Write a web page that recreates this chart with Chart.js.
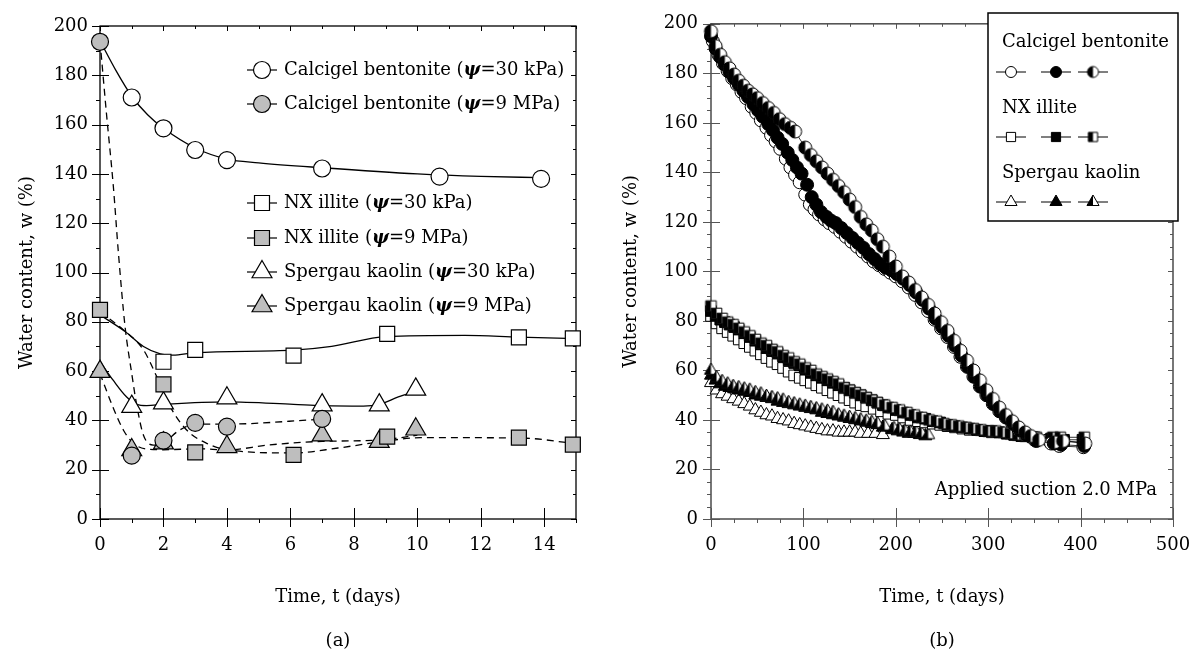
<!DOCTYPE html>
<html>
<head>
<meta charset="utf-8">
<script src="https://cdn.jsdelivr.net/npm/chart.js@4.4.1/dist/chart.umd.min.js"></script>
<style>
  body { margin: 0; background: #fff; width: 1192px; height: 656px; position: relative; overflow: hidden; font-family: "DejaVu Serif", serif; }
  canvas { position: absolute; top: 0; }
  #ca { left: 0; }
  #cb { left: 600px; }
  .cap { position: absolute; top: 628px; width: 100px; text-align: center; font-size: 18px; line-height: 24px; color: #000; }
</style>
</head>
<body>
<canvas id="ca" width="600" height="656"></canvas>
<canvas id="cb" width="592" height="656"></canvas>
<div class="cap" style="left:288px">(a)</div>
<div class="cap" style="left:892px">(b)</div>
<script>
// ---------- (a) short term tests, t in days, w in % ----------
var cb30T = [1, 2, 3, 4, 7, 10.7, 13.9];
var cb30W = [171, 158.5, 149.7, 145.6, 142.2, 138.9, 138];
var cb9T = [0, 1, 2, 3, 4, 7];
var cb9W = [193.6, 25.7, 31.8, 39, 37.5, 40.6];
var nx30T = [2, 3, 6.1, 9.05, 13.2, 14.9];
var nx30W = [63.8, 68.6, 66.3, 75.1, 73.7, 73.3];
var nx9T = [0, 2, 3, 6.1, 9.05, 13.2, 14.9];
var nx9W = [84.8, 54.6, 27, 26, 33.4, 33, 30.2];
var sk30T = [1, 2, 4, 7, 8.8, 9.95];
var sk30W = [45.6, 47, 49, 46.2, 46.2, 52.6];
var sk9T = [0, 1, 2, 4, 7, 8.8, 9.95];
var sk9W = [59.8, 28, 30.8, 29.3, 34, 31.4, 36.4];

// fitted trend curves as drawn in the figure
var cb30FitT = [0, 0.5, 1, 1.5, 2, 3, 4, 5, 7, 10, 12, 13.9];
var cb30FitW = [194, 182, 171.5, 164, 158.5, 150.5, 146, 144.5, 142.5, 140, 139, 138.5];
var cb9FitT = [0, 0.2, 0.42, 0.58, 0.79, 1, 1.16, 1.37, 1.68, 2, 2.5, 3, 4, 7];
var cb9FitW = [194, 165, 135, 108, 78, 59, 46, 34, 30, 31, 36, 38.5, 38.5, 40.5];
var nx30FitT = [0, 0.8, 1.37, 1.9, 2.3, 3, 6.1, 7.3, 9, 11.5, 13.2, 15];
var nx30FitW = [82.8, 76, 70, 67, 66.5, 67.5, 68.5, 70, 74, 74.5, 73.8, 73.2];
var nx9FitT = [0, 0.74, 1.37, 1.79, 2.21, 2.73, 3.36, 4.03, 6.1, 7.5, 8.9, 10.1, 13.2, 15];
var nx9FitW = [84, 76.7, 68.6, 57.7, 45.6, 36.1, 30.7, 28, 26.8, 28.8, 31.4, 33, 32.9, 30.6];
var sk30FitT = [0, 0.42, 0.84, 1.16, 1.47, 2, 4, 6.1, 7, 8.3, 8.8, 9.4, 10];
var sk30FitW = [63.8, 56.2, 49.5, 46.5, 46, 46.5, 47.5, 46.5, 46, 45.8, 46.5, 49.5, 52];
var sk9FitT = [0, 0.42, 0.74, 1.05, 1.47, 2, 3.1, 4, 5.3, 7, 8.8, 10];
var sk9FitW = [59, 45, 36, 30.7, 28.4, 28.1, 28.5, 28, 30, 31.5, 32, 34];

// ---------- (b) long term tests at 2.0 MPa, [t (days), w (%)] ----------
var cbOpen = [[2,193],[8,187.5],[13,184],[18,181],[23,178],[28,175.5],[33,172.5],[38,170],[44,166.5],[49,164],[54,161],[60,158],[65,155],[70,152.5],[75,149.5],[81,145.5],[86,142],[91,139],[96,136],[102,131],[107,127],[112,125],[117,123],[123,121],[128,119.5],[134,118],[140,116],[146,114],[152,112],[158,110],[164,108],[170,106],[176,104],[182,102.5],[188,101],[194,99.5],[200,98],[207,96],[214,93.5],[221,90.5],[228,87.5],[235,84],[242,80.5],[249,77],[256,73.5],[263,69.5],[270,65.5],[277,61.5],[284,57.5],[291,53.5],[298,50],[305,46.5],[312,43.5],[319,41],[326,38.5],[333,36],[340,34],[350,32],[368,30.5],[377,29.5],[403,29]];
var cbFilled = [[0,195],[5,190],[10,186.5],[15,183.5],[20,180.5],[25,178],[30,175.5],[35,173],[40,170.5],[46,167.5],[51,165],[56,162.5],[62,159.5],[67,157],[72,154],[77,151.5],[83,148],[88,145],[93,142],[98,139.5],[104,135],[109,130],[114,127],[119,124],[125,122],[130,120.5],[135,119.5],[141,117.5],[147,115.5],[153,113.5],[159,111.5],[165,109.5],[171,107],[177,105],[183,103],[189,101.5],[195,100.5],[201,99],[208,97],[215,94.5],[222,91.5],[229,88.5],[236,85],[243,81],[250,77.5],[257,74],[264,70],[271,66],[278,61.5],[285,57.5],[292,53.5],[299,50],[306,46.5],[313,43.5],[320,41],[327,38.5],[334,36],[341,34],[352,31.5],[371,30.5],[379,30],[404,29.5]];
var cbHalf = [[0,197],[5,191],[10,187.5],[15,184.5],[20,182],[25,179.5],[30,177],[35,175],[40,173],[45,171.5],[50,170],[56,168],[62,166],[68,164],[74,161.5],[80,159.5],[86,158],[91,156.5],[102,150],[108,147],[114,144.5],[120,142],[126,139.5],[132,137],[138,134.5],[144,132],[150,129],[156,126],[162,122],[168,119],[174,116.5],[180,113],[186,110],[193,106],[200,102],[207,98],[214,95.5],[221,92.5],[228,89.5],[235,86.5],[242,83],[249,79.5],[256,76],[263,72],[270,68],[277,64],[284,60],[291,56],[298,52],[305,48.5],[312,45],[319,42],[326,39.5],[333,37],[340,35],[346,33.5],[355,32],[372,31],[381,31.5],[405,30.5]];
var nxOpen = [[0,82],[6,79],[12,77],[18,75.5],[24,74],[30,72.5],[36,71],[42,69.5],[48,68],[54,66.5],[60,65],[66,63.5],[72,62.5],[78,61],[84,59.5],[90,58],[96,57],[102,56],[108,55],[114,54],[120,53],[126,52],[132,51],[138,50],[144,49],[150,48],[156,47],[162,46],[168,45.5],[176,44.5],[184,43.5],[192,42.5],[200,42],[208,41],[216,40],[224,39.5],[232,39],[240,38.5],[248,38],[256,37.5],[264,37],[272,36.5],[280,36],[288,36],[296,35.5],[304,35],[312,35],[320,34.5],[328,34],[336,33.5],[348,33],[366,32],[374,31.5],[382,31.5],[403,31]];
var nxFilled = [[0,84],[5,82],[10,80.5],[15,79.5],[20,78.5],[25,77.5],[30,76.5],[36,75],[42,73.5],[48,72],[54,70.5],[60,69],[66,68],[72,67],[78,65.5],[84,64],[90,63],[96,62],[102,60.5],[108,59],[114,58],[120,57],[126,56],[132,55],[138,54],[144,53],[150,52],[156,51],[162,50],[168,49],[174,48],[180,47],[186,46],[192,45],[200,44],[208,43],[216,42],[224,41],[232,40.5],[240,39.5],[248,39],[256,38],[264,37.5],[272,37],[280,36.5],[288,36],[296,35.5],[304,35.5],[312,35],[320,34.5],[328,34],[336,33.5],[350,33],[368,32.5],[375,32],[382,32],[402,32]];
var nxHalf = [[0,86],[6,83],[12,81],[18,79.5],[24,78.5],[30,77],[36,75.5],[42,74],[48,72.5],[54,71],[60,70],[66,68.5],[72,67.5],[78,66],[84,65],[90,63.5],[96,62.5],[102,61],[108,60],[114,58.5],[120,57.5],[126,56.5],[132,55.5],[138,54.5],[144,53],[150,52],[156,51],[162,50],[168,49],[174,48],[180,47],[188,46],[196,45],[204,44],[212,43],[220,42],[228,41],[236,40],[244,39.5],[252,38.5],[260,38],[268,37.5],[276,37],[284,36.5],[292,36],[300,35.5],[308,35.5],[316,35],[324,34.5],[332,34],[340,33.5],[352,33],[370,33],[378,33],[404,33]];
var skOpen = [[0,55],[6,52],[12,50.5],[18,49.5],[24,48.5],[30,47.5],[36,46.5],[42,45.5],[48,44],[54,43],[60,42],[66,41.5],[72,40.5],[78,40],[84,39.5],[90,38.5],[96,38],[102,37.5],[108,37],[114,36.5],[120,36],[126,35.5],[132,35.5],[138,35],[144,35],[150,35],[156,35],[162,34.5],[170,34.5],[178,34.5],[186,34]];
var skFilled = [[0,58],[5,56],[10,54.5],[15,53.5],[20,53],[25,52.5],[30,52],[36,51.5],[42,51],[48,50],[54,49.5],[60,49],[66,48.5],[72,47.5],[78,47],[84,46.5],[90,46],[96,45.5],[102,45],[108,44.5],[114,44],[120,43],[126,42.5],[132,42],[138,41.5],[144,41],[150,40.5],[156,40],[162,39.5],[168,39],[174,38.5],[180,38],[186,37],[196,36],[202,35.5],[208,35],[214,34.5],[220,34.5],[226,34],[232,33.5]];
var skHalf = [[0,60],[6,57],[12,55.5],[18,54.5],[24,53.5],[30,53],[36,52.5],[42,52],[48,51],[54,50.5],[60,49.5],[66,49],[72,48.5],[78,48],[84,47],[90,46.5],[96,46],[102,45.5],[108,45],[114,44.5],[120,44],[126,43.5],[132,43],[138,42],[144,41.5],[150,41],[156,40.5],[162,40],[168,39.5],[174,39],[180,38.5],[188,37.5],[198,36.5],[204,36],[210,35.5],[216,35],[222,35],[228,34.5],[235,34]];

var materials = ['Calcigel bentonite', 'NX illite', 'Spergau kaolin'];
var suctions = ['30 kPa', '9 MPa'];
var note = 'Applied suction 2.0 MPa';

var FONT = '"DejaVu Serif", serif';
var GREY = '#bebebe';

Chart.defaults.font.family = FONT;
Chart.defaults.font.size = 18;
Chart.defaults.color = '#000';
Chart.defaults.animation = false;
Chart.defaults.plugins.legend.display = false;
Chart.defaults.plugins.tooltip.enabled = false;

function pts(t, w) {
  return t.map(function (v, i) { return { x: v, y: w[i] }; });
}
function pairs(a) {
  return a.map(function (p) { return { x: p[0], y: p[1] }; });
}

// half filled marker (left half black) as an image point style
function halfMarker(shape, r) {
  var s = Math.ceil(r * 2 + 4), c = document.createElement('canvas');
  c.width = s; c.height = s;
  var g = c.getContext('2d'), m = s / 2;
  function path() {
    g.beginPath();
    if (shape === 'circle') {
      g.arc(m, m, r, 0, Math.PI * 2);
    } else if (shape === 'rect') {
      var h = r * Math.SQRT1_2;
      g.rect(m - h, m - h, 2 * h, 2 * h);
    } else {
      g.moveTo(m, m - r);
      g.lineTo(m + r * Math.sin(Math.PI * 2 / 3), m + r / 2);
      g.lineTo(m - r * Math.sin(Math.PI * 2 / 3), m + r / 2);
      g.closePath();
    }
  }
  path(); g.fillStyle = '#fff'; g.fill();
  g.save(); path(); g.clip(); g.fillStyle = '#000'; g.fillRect(0, 0, m, s); g.restore();
  path(); g.lineWidth = 1; g.strokeStyle = '#000'; g.stroke();
  return c;
}

// frame with tick marks on all four sides
var frame = {
  id: 'frame',
  beforeDatasetsDraw: function (chart, args, o) {
    var a = chart.chartArea, ctx = chart.ctx, xs = chart.scales.x, ys = chart.scales.y, v, p, mj;
    ctx.save();
    ctx.strokeStyle = o.color;
    ctx.lineWidth = o.width;
    ctx.strokeRect(a.left, a.top, a.right - a.left, a.bottom - a.top);
    ctx.lineWidth = 1;
    ctx.beginPath();
    for (v = ys.min; v <= ys.max + 1e-9; v += o.yMinor) {
      p = Math.round(ys.getPixelForValue(v)) + 0.5;
      mj = Math.abs(v / o.yMajor - Math.round(v / o.yMajor)) < 1e-6;
      if (mj) { ctx.moveTo(a.left - 8, p); ctx.lineTo(a.left + 9, p); }
      else { ctx.moveTo(a.left - 4, p); ctx.lineTo(a.left, p); }
      ctx.moveTo(a.right, p); ctx.lineTo(a.right - (mj ? 5 : 3), p);
    }
    for (v = xs.min; v <= xs.max + 1e-9; v += o.xMinor) {
      p = Math.round(xs.getPixelForValue(v)) + 0.5;
      mj = Math.abs(v / o.xMajor - Math.round(v / o.xMajor)) < 1e-6;
      if (mj) { ctx.moveTo(p, a.bottom + 8); ctx.lineTo(p, a.bottom - 11); }
      else { ctx.moveTo(p, a.bottom + 4); ctx.lineTo(p, a.bottom); }
      ctx.moveTo(p, a.top); ctx.lineTo(p, a.top + (mj ? 5 : 3));
    }
    ctx.stroke();
    ctx.restore();
  }
};

function setStyle(ctx, ds) {
  ctx.fillStyle = ds.pointBackgroundColor;
  ctx.strokeStyle = '#000';
  ctx.lineWidth = ds.pointBorderWidth;
}

// (a) legend: marker with short line, then label with bold italic psi
var legA = {
  id: 'legA',
  afterDatasetsDraw: function (chart) {
    var ctx = chart.ctx, rowsY = [70, 104, 203, 238, 272, 306];
    var marks = chart.data.datasets.filter(function (d) { return d.isMarker; });
    ctx.save();
    marks.forEach(function (ds, i) {
      var y = rowsY[i], x0 = 262;
      ctx.strokeStyle = '#000'; ctx.lineWidth = 1.2;
      ctx.beginPath(); ctx.moveTo(x0 - 15, y); ctx.lineTo(x0 + 15, y); ctx.stroke();
      setStyle(ctx, ds);
      Chart.helpers.drawPoint(ctx, { pointStyle: ds.pointStyle, radius: ds.pointRadius, borderWidth: ds.pointBorderWidth, rotation: 0 }, x0, y);
      var parts = ds.label.split('ψ'), x = 284;
      ctx.fillStyle = '#000'; ctx.textBaseline = 'middle'; ctx.textAlign = 'left';
      ctx.font = '18px ' + FONT;
      ctx.fillText(parts[0], x, y); x += ctx.measureText(parts[0]).width;
      ctx.font = 'italic bold 18px ' + FONT;
      ctx.fillText('ψ', x, y); x += ctx.measureText('ψ').width;
      ctx.font = '18px ' + FONT;
      ctx.fillText(parts[1], x, y);
    });
    ctx.restore();
  }
};

// (b) legend box grouped by material, plus the suction note
var legB = {
  id: 'legB',
  afterDraw: function (chart) {
    var ctx = chart.ctx;
    var ds = chart.data.datasets;
    var headY = [42, 108, 173], iconY = [72, 137, 202], iconX = [411, 456, 493];
    var legR = { circle: 5.5, rect: 6.5, triangle: 7 };
    ctx.save();
    ctx.fillStyle = '#fff';
    ctx.fillRect(388, 13, 190, 208);
    ctx.strokeStyle = '#000'; ctx.lineWidth = 1.5;
    ctx.strokeRect(388, 13, 190, 208);
    materials.forEach(function (m, g) {
      ctx.fillStyle = '#000'; ctx.font = '18px ' + FONT;
      ctx.textAlign = 'left'; ctx.textBaseline = 'middle';
      ctx.fillText(m, 402, headY[g]);
      // datasets are ordered half, filled, open per material; icons show open, filled, half
      [2, 1, 0].forEach(function (k, j) {
        var d = ds[g * 3 + k], x = iconX[j], y = iconY[g];
        ctx.strokeStyle = '#000'; ctx.lineWidth = 1;
        ctx.beginPath(); ctx.moveTo(x - 15, y); ctx.lineTo(x + 15, y); ctx.stroke();
        setStyle(ctx, d);
        Chart.helpers.drawPoint(ctx, { pointStyle: d.legendIcon || d.legendStyle, radius: legR[d.legendStyle], borderWidth: 1, rotation: 0 }, x, y);
      });
    });
    ctx.fillStyle = '#000'; ctx.font = '18px ' + FONT;
    ctx.textAlign = 'right'; ctx.textBaseline = 'middle';
    ctx.fillText(note, 557, 490);
    ctx.restore();
  }
};

// force exact plot areas, no automatic label overhang padding
function fitX(sc) { sc.height = 137; sc.paddingLeft = 0; sc.paddingRight = 0; }

// ---------- chart (a) ----------
var seriesA = [
  { t: cb30T, w: cb30W, ft: cb30FitT, fw: cb30FitW, m: 0, s: 0, style: 'circle', r: 8.5 },
  { t: cb9T, w: cb9W, ft: cb9FitT, fw: cb9FitW, m: 0, s: 1, style: 'circle', r: 8.5 },
  { t: nx30T, w: nx30W, ft: nx30FitT, fw: nx30FitW, m: 1, s: 0, style: 'rect', r: 10.6 },
  { t: nx9T, w: nx9W, ft: nx9FitT, fw: nx9FitW, m: 1, s: 1, style: 'rect', r: 10.6 },
  { t: sk30T, w: sk30W, ft: sk30FitT, fw: sk30FitW, m: 2, s: 0, style: 'triangle', r: 11.5 },
  { t: sk9T, w: sk9W, ft: sk9FitT, fw: sk9FitW, m: 2, s: 1, style: 'triangle', r: 11.5 }
];
var dsA = [];
seriesA.forEach(function (s) {
  dsA.push({
    label: materials[s.m] + ' (ψ=' + suctions[s.s] + ')',
    isMarker: true,
    data: pts(s.t, s.w),
    showLine: false,
    pointStyle: s.style,
    pointRadius: s.r,
    pointBackgroundColor: s.s === 0 ? '#fff' : GREY,
    pointBorderColor: '#000',
    pointBorderWidth: 1.2,
    order: 0,
    clip: false
  });
  dsA.push({
    label: materials[s.m] + ' fit',
    data: pts(s.ft, s.fw),
    showLine: true,
    pointRadius: 0,
    borderColor: '#000',
    borderWidth: 1.3,
    borderDash: s.s === 0 ? [] : [7, 5],
    cubicInterpolationMode: 'monotone',
    order: 1,
    clip: false
  });
});

new Chart(document.getElementById('ca'), {
  type: 'scatter',
  data: { datasets: dsA },
  plugins: [frame, legA],
  options: {
    responsive: false,
    layout: { padding: { left: 0, right: 24, top: 26, bottom: 0 } },
    scales: {
      x: {
        type: 'linear', min: 0, max: 15,
        grid: { display: false, drawTicks: false },
        border: { display: false },
        ticks: { stepSize: 2, includeBounds: false, padding: 16, font: { size: 18 } },
        title: { display: true, text: 'Time, t (days)', font: { size: 18 }, padding: { top: 0, bottom: 48 } },
        afterFit: fitX
      },
      y: {
        type: 'linear', min: 0, max: 200,
        grid: { display: false, drawTicks: false },
        border: { display: false },
        ticks: { stepSize: 20, padding: 12, font: { size: 18 } },
        title: { display: true, text: 'Water content, w (%)', font: { size: 18 }, padding: { top: 17, bottom: 0 } },
        afterFit: function (sc) { sc.width = 100; }
      }
    },
    plugins: {
      frame: { color: '#000', width: 1.3, xMinor: 1, xMajor: 2, yMinor: 10, yMajor: 20 }
    }
  }
});

// ---------- chart (b) ----------
var seriesB = [
  { d: cbHalf, st: 'circle', r: 6.5, f: 'half' },
  { d: cbFilled, st: 'circle', r: 6.5, f: '#000' },
  { d: cbOpen, st: 'circle', r: 6.5, f: '#fff' },
  { d: nxHalf, st: 'rect', r: 7.5, f: 'half' },
  { d: nxFilled, st: 'rect', r: 7.5, f: '#000' },
  { d: nxOpen, st: 'rect', r: 7.5, f: '#fff' },
  { d: skHalf, st: 'triangle', r: 7.5, f: 'half' },
  { d: skFilled, st: 'triangle', r: 7.5, f: '#000' },
  { d: skOpen, st: 'triangle', r: 7.5, f: '#fff' }
];
var legRad = { circle: 5.5, rect: 6.5, triangle: 7 };
var dsB = seriesB.map(function (s) {
  var half = s.f === 'half';
  return {
    data: pairs(s.d),
    showLine: true,
    borderColor: '#000',
    borderWidth: 0.8,
    pointStyle: half ? halfMarker(s.st, s.r) : s.st,
    legendStyle: s.st,
    legendIcon: half ? halfMarker(s.st, legRad[s.st]) : null,
    pointRadius: s.r,
    pointBackgroundColor: half ? '#fff' : s.f,
    pointBorderColor: '#000',
    pointBorderWidth: 1,
    clip: false
  };
});

new Chart(document.getElementById('cb'), {
  type: 'scatter',
  data: { datasets: dsB },
  plugins: [frame, legB],
  options: {
    responsive: false,
    layout: { padding: { left: 0, right: 19, top: 23, bottom: 0 } },
    scales: {
      x: {
        type: 'linear', min: 0, max: 500,
        grid: { display: false, drawTicks: false },
        border: { display: false },
        ticks: { stepSize: 100, padding: 16, font: { size: 18 } },
        title: { display: true, text: 'Time, t (days)', font: { size: 18 }, padding: { top: 0, bottom: 48 } },
        afterFit: fitX
      },
      y: {
        type: 'linear', min: 0, max: 200,
        grid: { display: false, drawTicks: false },
        border: { display: false },
        ticks: { stepSize: 20, padding: 13, font: { size: 18 } },
        title: { display: true, text: 'Water content, w (%)', font: { size: 18 }, padding: { top: 21, bottom: 0 } },
        afterFit: function (sc) { sc.width = 111; }
      }
    },
    plugins: {
      frame: { color: '#555', width: 1.6, xMinor: 25, xMajor: 100, yMinor: 5, yMajor: 20 }
    }
  }
});
</script>
</body>
</html>
